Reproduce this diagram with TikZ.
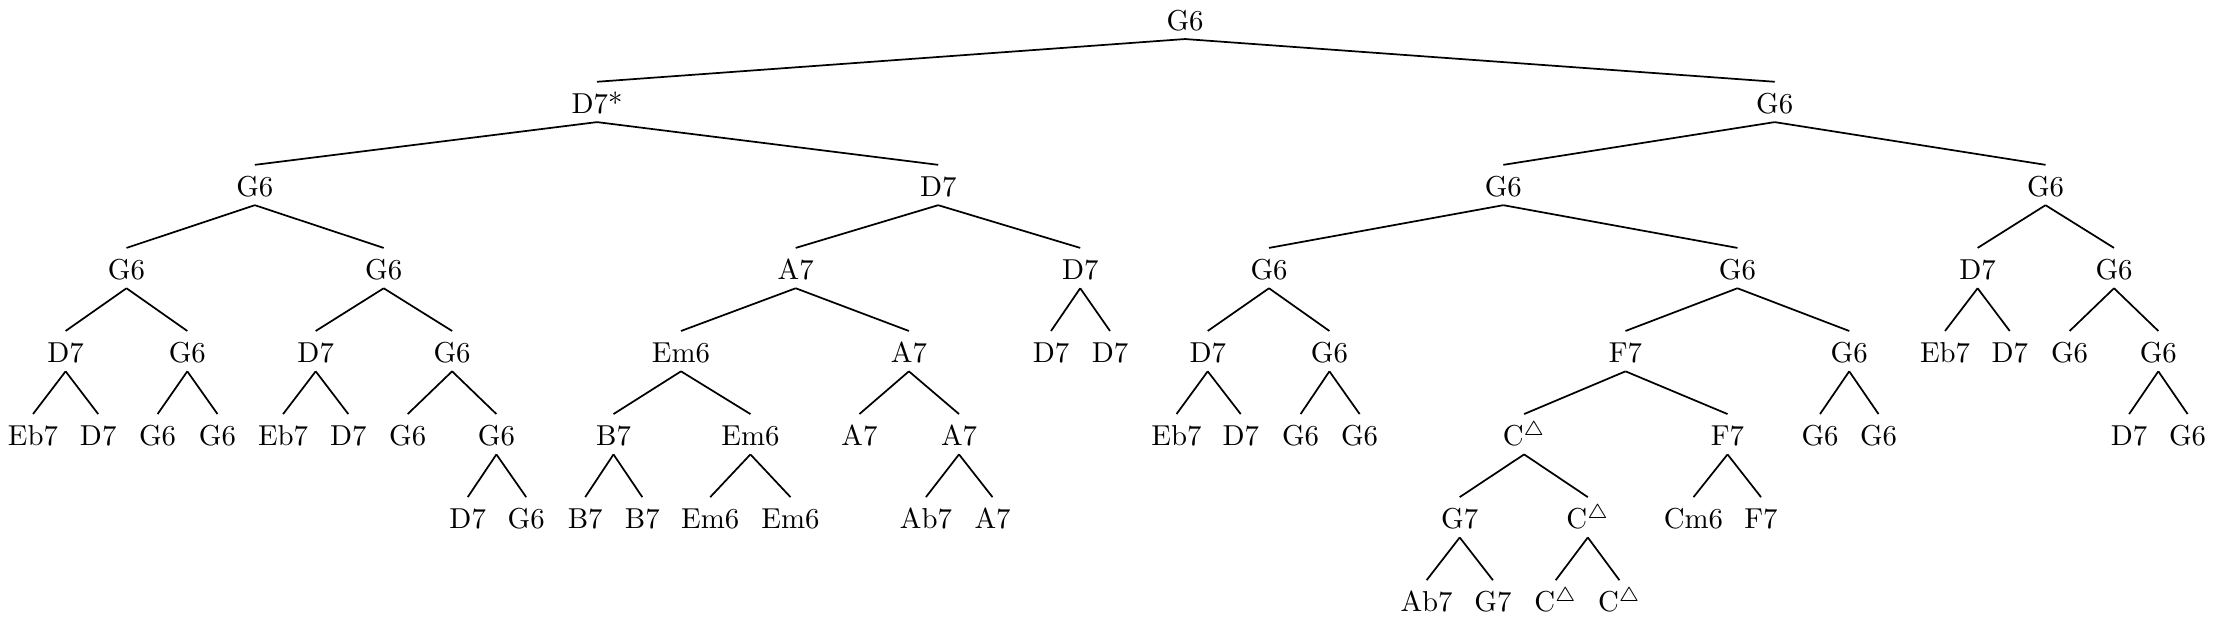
\documentclass[tikz,border=0pt]{standalone}
\begin{document}
\begin{tikzpicture}[x=0.347pt, y=-0.347pt, semithick,
        chord/.style={anchor=base, inner xsep=2pt, inner ysep=2.7pt, text height=8pt, text depth=0pt}]

            % the frame
            \useasboundingbox (0, 0) rectangle (2215, 619);

            % the root
            \node[chord] (t) at (1185, 30.4) {G6};

            % the rest, row by row: name / parent / x / row / chord
            \foreach \n/\p/\x/\k/\t in {
                tl/t/597.0/1/D7*, tr/t/1774.7/1/G6,
                tll/tl/254.8/2/G6, tlr/tl/938.2/2/D7, trl/tr/1503.3/2/G6, trr/tr/2045.5/2/G6,
                tlll/tll/126.5/3/G6, tllr/tll/383.7/3/G6, tlrl/tlr/795.7/3/A7, tlrr/tlr/1080.2/3/D7,
                trll/trl/1269.0/3/G6, trlr/trl/1737.4/3/G6, trrl/trr/1977.6/3/D7, trrr/trr/2114.0/3/G6,
                tllll/tlll/65.6/4/D7, tlllr/tlll/187.3/4/G6, tllrl/tllr/315.7/4/D7, tllrr/tllr/452.1/4/G6,
                tlrll/tlrl/681.0/4/Em6, tlrlr/tlrl/908.9/4/A7, tlrrl/tlrr/1051.0/4/D7, tlrrr/tlrr/1110.0/4/D7,
                trlll/trll/1207.7/4/D7, trllr/trll/1329.4/4/G6, trlrl/trlr/1625.5/4/F7, trlrr/trlr/1849.2/4/G6,
                trrll/trrl/1945.0/4/Eb7, trrlr/trrl/2009.7/4/D7, trrrl/trrr/2069.6/4/G6, trrrr/trrr/2158.3/4/G6,
                tlllll/tllll/33.0/5/Eb7, tllllr/tllll/98.2/5/D7, tlllrl/tlllr/157.6/5/G6, tlllrr/tlllr/217.5/5/G6,
                tllrll/tllrl/283.1/5/Eb7, tllrlr/tllrl/348.3/5/D7, tllrrl/tllrr/407.7/5/G6, tllrrr/tllrr/496.4/5/G6,
                tlrlll/tlrll/613.5/5/B7, tlrllr/tlrll/750.4/5/Em6, tlrlrl/tlrlr/859.4/5/A7, tlrlrr/tlrlr/959.0/5/A7,
                trllll/trlll/1176.5/5/Eb7, trlllr/trlll/1240.7/5/D7, trllrl/trllr/1300.6/5/G6, trllrr/trllr/1359.6/5/G6,
                trlrll/trlrl/1524.1/5/C$^\triangle$, trlrlr/trlrl/1727.5/5/F7, trlrrl/trlrr/1820.0/5/G6, trlrrr/trlrr/1878.5/5/G6,
                trrrrl/trrrr/2129.1/5/D7, trrrrr/trrrr/2187.6/5/G6,
                tllrrrl/tllrrr/467.7/6/D7, tllrrrr/tllrrr/526.2/6/G6, tlrllll/tlrlll/585.2/6/B7, tlrlllr/tlrlll/642.3/6/B7,
                tlrllrl/tlrllr/710.2/6/Em6, tlrllrr/tlrllr/790.5/6/Em6, tlrlrrl/tlrlrr/925.9/6/Ab7, tlrlrrr/tlrlrr/992.5/6/A7,
                trlrlll/trlrll/1459.7/6/G7, trlrllr/trlrll/1587.8/6/C$^\triangle$, trlrlrl/trlrlr/1693.5/6/Cm6, trlrlrr/trlrlr/1761.0/6/F7,
                trlrllll/trlrlll/1426.6/7/Ab7, trlrlllr/trlrlll/1492.9/7/G7,
                trlrllrl/trlrllr/1555.7/7/C$^\triangle$, trlrllrr/trlrllr/1619.4/7/C$^\triangle$} {
                \node[chord] (\n) at (\x, {30.4 + 83.07*\k}) {\t};
                \draw (\p.south) -- (\n.north);
            };

        \end{tikzpicture}
\end{document}
